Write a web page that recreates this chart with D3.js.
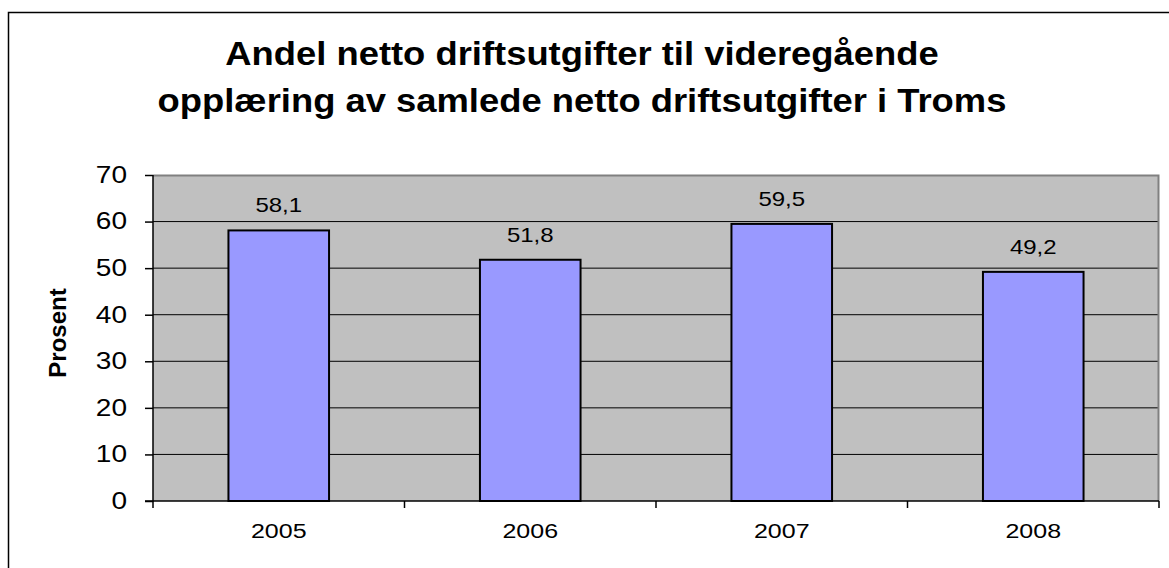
<!DOCTYPE html>
<html><head><meta charset="utf-8">
<script src="https://cdn.jsdelivr.net/npm/d3@7"></script>
<style>html,body{margin:0;padding:0;background:#fff;overflow:hidden}</style>
</head><body>
<svg id="c" width="1169" height="568"></svg>
<script>
const categories = ["2005", "2006", "2007", "2008"];
const values = [58.1, 51.8, 59.5, 49.2];
const valueLabels = ["58,1", "51,8", "59,5", "49,2"];
const yTicks = [0, 10, 20, 30, 40, 50, 60, 70];
const titleLines = ["Andel netto driftsutgifter til videregående", "opplæring av samlede netto driftsutgifter i Troms"];
const yAxisTitle = "Prosent";

const svg = d3.select("#c");
const font = "Arial, 'Liberation Sans', sans-serif";
const L = 153, R = 1159, T = 175, B = 501;

// horizontally stretch text (reference glyphs are a bit wider than normal)
function stretch(sel, sx) {
  sel.each(function () {
    const t = d3.select(this);
    const x0 = +t.attr("x") || 0;
    t.attr("x", x0 / sx).attr("transform", `scale(${sx},1)`);
  });
}

svg.append("rect").attr("x", 8.5).attr("y", 12.5).attr("width", 1300).attr("height", 700)
  .attr("fill", "#fff").attr("stroke", "#000").attr("stroke-width", 1.5);

const x = d3.scaleBand().domain(categories).range([L, R]).padding(0);
const y = d3.scaleLinear().domain([0, 70]).range([B, T]);

svg.append("rect").attr("x", L).attr("y", T).attr("width", R - L).attr("height", B - T).attr("fill", "#C0C0C0");

// gridlines
svg.append("g").selectAll("line").data(yTicks.filter(d => d > 0 && d < 70)).join("line")
  .attr("x1", L).attr("x2", R).attr("y1", d => y(d)).attr("y2", d => y(d))
  .attr("stroke", "#000").attr("stroke-width", 1);

// plot border top/right gray
svg.append("path").attr("d", `M${L},${T + 0.5}H${R - 0.5}V${B}`).attr("fill", "none")
  .attr("stroke", "#808080").attr("stroke-width", 2);

// bars
const bw = x.bandwidth() * 0.4;
svg.append("g").selectAll("rect").data(values).join("rect")
  .attr("x", (d, i) => x(categories[i]) + x.bandwidth() / 2 - bw / 2)
  .attr("y", d => y(d)).attr("width", bw).attr("height", d => B - y(d))
  .attr("fill", "#9999FF").attr("stroke", "#000").attr("stroke-width", 2);

// data labels
const dl = svg.append("g").selectAll("text").data(values).join("text")
  .attr("x", (d, i) => x(categories[i]) + x.bandwidth() / 2)
  .attr("y", d => y(d) - 18)
  .attr("text-anchor", "middle").attr("font-family", font).attr("font-size", 20)
  .text((d, i) => valueLabels[i]);
stretch(dl, 1.2);

// y axis
const yAxis = d3.axisLeft(y).tickValues(yTicks).tickSize(8).tickPadding(18).tickFormat(d3.format("d"));
const gy = svg.append("g").attr("transform", `translate(${L},0)`).call(yAxis);
gy.select(".domain").attr("stroke", "#000").attr("stroke-width", 1.5).attr("d", `M-8,${B}H0V${T}`);
gy.selectAll(".tick line").attr("stroke", "#000").attr("stroke-width", 1.5);
const yt = gy.selectAll(".tick text").attr("font-family", font).attr("font-size", 23).attr("fill", "#000");
stretch(yt, 1.22);

// x axis
const xAxis = d3.axisBottom(x).tickSize(0).tickPadding(23);
const gx = svg.append("g").attr("transform", `translate(0,${B})`).call(xAxis);
gx.select(".domain").attr("stroke", "#000").attr("stroke-width", 1.5).attr("d", `M${L},0H${R}`);
const xt = gx.selectAll(".tick text").attr("font-family", font).attr("font-size", 20).attr("fill", "#000");
stretch(xt, 1.25);
// boundary tick marks
const bounds = categories.map(c => x(c)).concat([R]);
svg.append("g").selectAll("line").data(bounds).join("line")
  .attr("x1", d => d).attr("x2", d => d).attr("y1", B).attr("y2", B + 7)
  .attr("stroke", "#000").attr("stroke-width", 1.5);

// title
const tt = svg.append("g").selectAll("text").data(titleLines).join("text")
  .attr("x", 582).attr("y", (d, i) => 65 + i * 47)
  .attr("text-anchor", "middle").attr("font-family", font).attr("font-weight", "bold")
  .attr("font-size", 34).text(d => d);
stretch(tt, 1.07);

// y axis title
svg.append("text").attr("transform", `translate(66,333) rotate(-90)`)
  .attr("text-anchor", "middle").attr("font-family", font).attr("font-weight", "bold")
  .attr("font-size", 24).text(yAxisTitle);
</script>
</body></html>
